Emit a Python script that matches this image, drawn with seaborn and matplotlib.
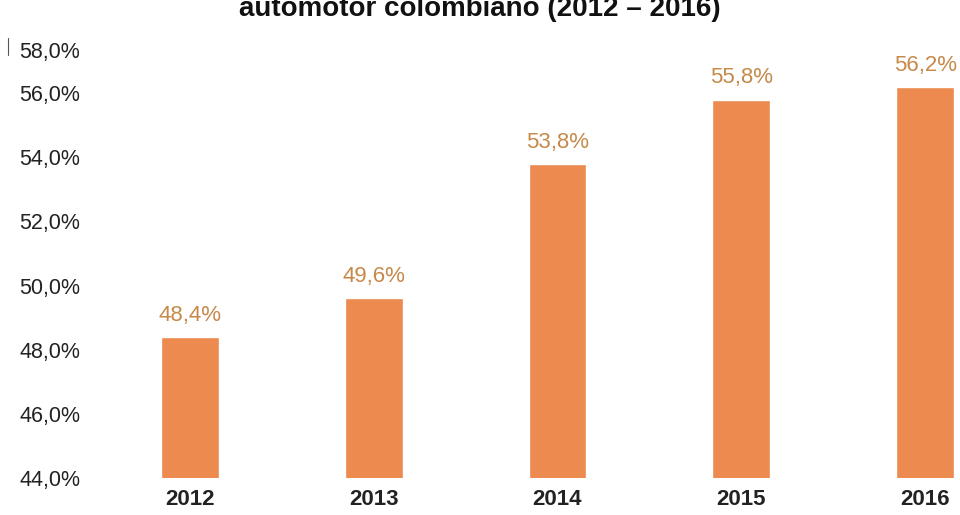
import matplotlib
matplotlib.use("Agg")
import matplotlib.pyplot as plt
import matplotlib.transforms as mtransforms
from matplotlib.lines import Line2D
import seaborn as sns
import pandas as pd

years = ["2012", "2013", "2014", "2015", "2016"]
values = [48.4, 49.6, 53.8, 55.8, 56.2]
value_labels = ["48,4%", "49,6%", "53,8%", "55,8%", "56,2%"]
ytick_values = [44, 46, 48, 50, 52, 54, 56, 58]
ytick_labels = ["44,0%", "46,0%", "48,0%", "50,0%", "52,0%", "54,0%", "56,0%", "58,0%"]
title = "automotor colombiano (2012 – 2016)"

sns.set_theme(style="white")
plt.rcParams['font.family'] = ['Liberation Sans', 'DejaVu Sans']

df = pd.DataFrame({"year": years, "value": values})

fig = plt.figure(figsize=(9.6, 5.15), dpi=100)
ax = fig.add_axes([0.104, 0.0718, 0.896, 0.872])

sns.barplot(data=df, x="year", y="value", color="#EC8A4F", width=0.315,
            saturation=1, ax=ax, bottom=0)

ax.set_ylim(44, 58)
ax.set_xlim(-0.49, 4.19)
ax.set_yticks(ytick_values)
ax.set_yticklabels(ytick_labels, fontsize=15.5, color="#222222")
ax.set_xlabel("")
ax.set_ylabel("")
ax.tick_params(axis="y", length=0, pad=14)
ax.tick_params(axis="x", length=0, pad=8)
for lab in ax.get_xticklabels():
    lab.set_fontsize(16)
    lab.set_fontweight("bold")
    lab.set_color("#222222")
for s in ax.spines.values():
    s.set_visible(False)

# the top tick label sits lower in the reference
top_lab = ax.get_yticklabels()[-1]
top_lab.set_transform(top_lab.get_transform() +
                      mtransforms.ScaledTranslation(0, -0.21, fig.dpi_scale_trans))

for i, (v, t) in enumerate(zip(values, value_labels)):
    ax.annotate(t, (i, v), xytext=(0, 8), textcoords="offset points",
                ha="center", va="bottom", fontsize=16, color="#C6894A")

fig.text(0.5, 1 - 16 / 515, title, ha="center", va="baseline", fontsize=20,
         fontweight="bold", color="#111111")

fig.add_artist(Line2D([8 / 960, 8 / 960], [1 - 38 / 515, 1 - 55 / 515],
                      transform=fig.transFigure, color="#555555", lw=0.8))

fig.savefig("out.png", dpi=100)
